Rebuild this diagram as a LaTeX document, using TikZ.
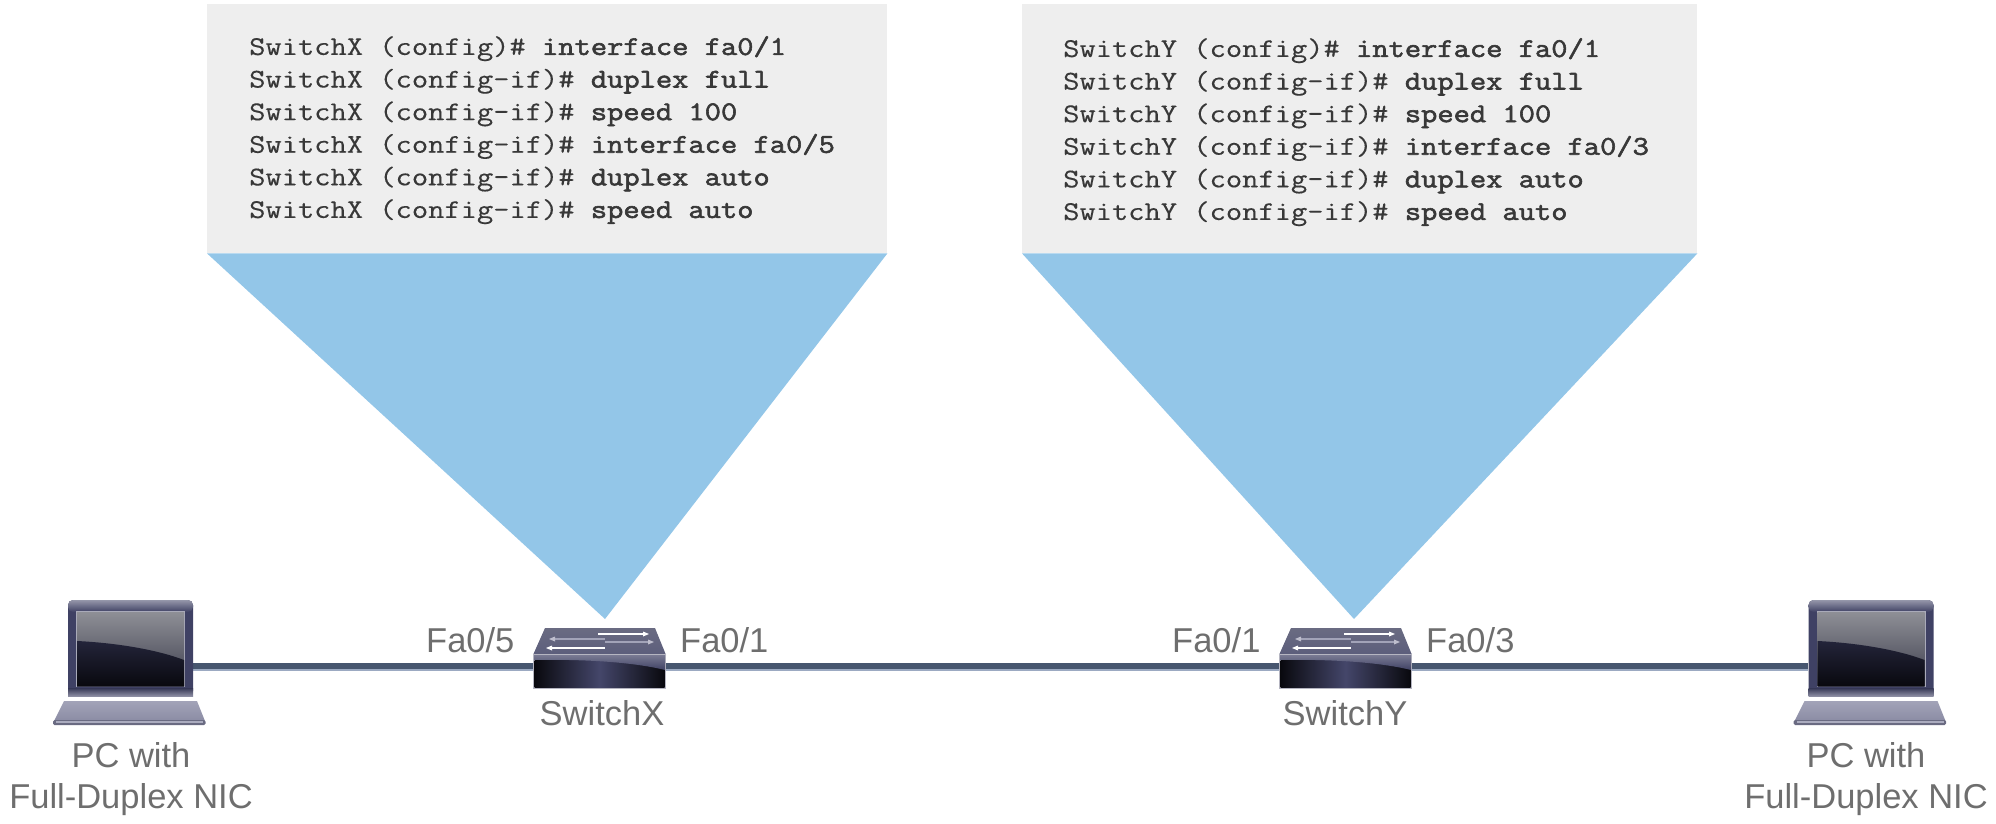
\documentclass[tikz,border=0pt]{standalone}
\usepackage{fontspec}
\setmainfont{Liberation Sans}
\setmonofont[FakeStretch=1.17,AutoFakeBold=2.2,FakeBold=0.3]{Latin Modern Mono}
\definecolor{cfgbg}{HTML}{EEEEEE}
\definecolor{funnel}{HTML}{93C6E8}
\definecolor{labelgray}{HTML}{6E6E6E}
\definecolor{cfgtext}{HTML}{383838}
\definecolor{linkdark}{HTML}{47566F}
\definecolor{linklight}{HTML}{7286A8}
\definecolor{bezel}{HTML}{3F4164}
\tikzset{
  icon box/.style={minimum width=#1,minimum height=78pt,inner sep=0pt,outer sep=0pt},
  cfg box/.style={fill=cfgbg,inner sep=0pt,minimum width=#1,minimum height=249pt},
  cfg text/.style={anchor=north west,align=left,inner sep=0pt,text=cfgtext,font=\ttfamily\fontsize{27}{32.6}\selectfont},
  lbl/.style={text=labelgray,inner sep=0pt,align=center,font=\fontsize{34.5}{41}\selectfont},
  port/.style={text=labelgray,inner sep=0pt,anchor=base west,font=\fontsize{34.5}{36}\selectfont},
  link/.style={draw=linkdark,line width=6pt},
  link glow/.style={draw=linklight!70!white,line width=8.5pt},
  laptop/.pic={
    \fill[bezel,rounded corners=5pt] (0,0) rectangle (125,96);
    \shade[top color=bezel!55!white,bottom color=bezel,rounded corners=5pt] (0,0) rectangle (125,12);
    \shade[top color=bezel!85!black,bottom color=bezel!60!white] (0,88) rectangle (125,96);
    \fill[bezel!45!white] (8,11) rectangle (117,87);
    \shade[top color=HL,bottom color=HM] (9,12) rectangle (116,86);
    \shade[top color=HD,bottom color=HE] (9,41) .. controls (50,43) and (90,50) .. (116,60) -- (116,86) -- (9,86) -- cycle;
    \shade[top color=BL,bottom color=BM] (-4,101) -- (129,101) -- (137,121) -- (-14,121) -- cycle;
    \fill[BE,rounded corners=1.5pt] (-15,120) rectangle (137.5,125);
    \fill[BL!90!white] (-12,121) rectangle (135,122.5);
  },
  switchicon/.pic={
    \shade[top color=BE,bottom color=bezel!85!white] (12,0) -- (122,0) -- (133,27) -- (0,27) -- cycle;
    \foreach \xa/\xb/\yy/\cc in {65/112/6/white,20/72/11/BL,72/117/14/BL,17/72/20/white}{
      \draw[\cc,line width=1.6pt] (\xa,\yy) -- (\xb,\yy);
    }
    \fill[white] (116,6) -- (110,3.5) -- (110,8.5) -- cycle;
    \fill[BL!70!white] (16,11) -- (22,8.5) -- (22,13.5) -- cycle;
    \fill[BL!70!white] (121,14) -- (115,11.5) -- (115,16.5) -- cycle;
    \fill[white] (13,20) -- (19,17.5) -- (19,22.5) -- cycle;
    \fill[BE!50!white] (0,26) rectangle (133,61);
    \shade[left color=HE,right color=HE,middle color=SM] (1.5,32) rectangle (131.5,59);
    \shade[top color=bezel!70!white,bottom color=bezel] (1,27) -- (132,27) -- (132,42) .. controls (100,34) and (50,31) .. (1,32) -- cycle;
  }
}
\definecolor{HL}{HTML}{8E8F96}
\definecolor{HM}{HTML}{3C3D4C}
\definecolor{HD}{HTML}{23243A}
\definecolor{HE}{HTML}{09090E}
\definecolor{BL}{HTML}{A2A3B8}
\definecolor{BM}{HTML}{8B8CA4}
\definecolor{BE}{HTML}{6A6B82}
\definecolor{SM}{HTML}{44466A}
\begin{document}
\begin{tikzpicture}[x=1pt,y=-1pt]
  \useasboundingbox (0,0) rectangle (1996,824);
  % config panels
  \node[cfg box=680pt,anchor=north west] (panelx) at (207,4) {};
  \node[cfg box=675pt,anchor=north west] (panely) at (1022,4) {};
  \fill[funnel] (panelx.south west) -- (panelx.south east) -- (605,619) -- cycle;
  \fill[funnel] (panely.south west) -- (panely.south east) -- (1354,619) -- cycle;
  \node[cfg text] (cfgx) at (249,36) {SwitchX (config)\# \textbf{interface fa0/1}\\
SwitchX (config-if)\# \textbf{duplex full}\\
SwitchX (config-if)\# \textbf{speed 100}\\
SwitchX (config-if)\# \textbf{interface fa0/5}\\
SwitchX (config-if)\# \textbf{duplex auto}\\
SwitchX (config-if)\# \textbf{speed auto}};
  \node[cfg text] (cfgy) at (1063,38) {SwitchY (config)\# \textbf{interface fa0/1}\\
SwitchY (config-if)\# \textbf{duplex full}\\
SwitchY (config-if)\# \textbf{speed 100}\\
SwitchY (config-if)\# \textbf{interface fa0/3}\\
SwitchY (config-if)\# \textbf{duplex auto}\\
SwitchY (config-if)\# \textbf{speed auto}};
  % icon anchors (centred on the link height)
  \node[icon box=125pt,anchor=west] (pcl) at (68,667) {};
  \node[icon box=133pt,anchor=west] (swx) at (533,667) {};
  \node[icon box=133pt,anchor=west] (swy) at (1279,667) {};
  \node[icon box=126pt,anchor=west] (pcr) at (1808,667) {};
  % links
  \foreach \a/\b in {pcl/swx,swx/swy,swy/pcr}{
    \draw[link glow] (\a.east) -- (\b.west);
    \draw[link] ([yshift=1.2pt]\a.east) -- ([yshift=1.2pt]\b.west);
  }
  % icons
  \pic at (68,600) {laptop};
  \pic at (1808.5,600) {laptop};
  \pic at (533,628) {switchicon};
  \pic at (1279,628) {switchicon};
  % labels
  \node[lbl,anchor=base] (lpcl) at (131,808) {PC with\\Full-Duplex NIC};
  \node[lbl,anchor=base] (lpcr) at (1866,808) {PC with\\Full-Duplex NIC};
  \node[lbl,anchor=base] (lswx) at (602,725) {SwitchX};
  \node[lbl,anchor=base] (lswy) at (1345,725) {SwitchY};
  \node[port] (p1) at (426,652) {Fa0/5};
  \node[port] (p2) at (680,652) {Fa0/1};
  \node[port] (p3) at (1172,652) {Fa0/1};
  \node[port] (p4) at (1426,652) {Fa0/3};
\end{tikzpicture}
\end{document}
